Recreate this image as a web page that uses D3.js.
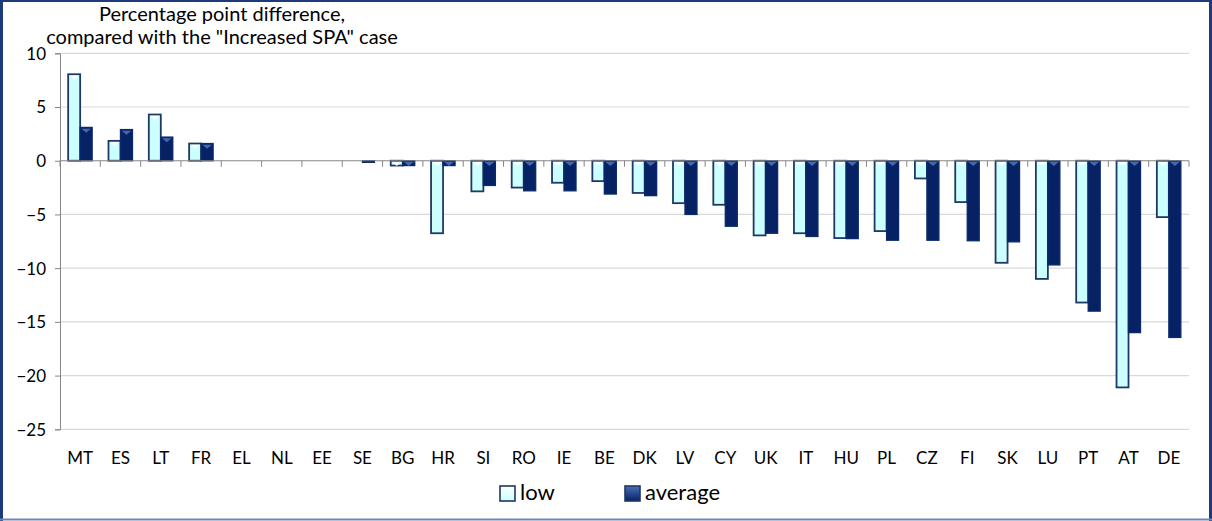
<!DOCTYPE html>
<html>
<head>
<meta charset="utf-8">
<script src="https://cdn.jsdelivr.net/npm/d3@7"></script>
<style>
  body { margin: 0; background: #fff; }
  text { font-family: Lato, "Open Sans", sans-serif; fill: #000; }
</style>
</head>
<body>
<div id="chart"></div>
<script>
// categories and series
var countries = ["MT","ES","LT","FR","EL","NL","EE","SE","BG","HR","SI","RO","IE","BE","DK","LV","CY","UK","IT","HU","PL","CZ","FI","SK","LU","PT","AT","DE"];
var lowVals = [8.05, 1.85, 4.3, 1.6, 0, 0, 0, 0, -0.45, -6.75, -2.85, -2.5, -2.05, -1.9, -3.0, -3.95, -4.1, -6.95, -6.75, -7.2, -6.55, -1.65, -3.85, -9.5, -11.0, -13.2, -21.1, -5.25];
var avgVals = [3.1, 2.9, 2.2, 1.6, 0, 0, 0, -0.15, -0.45, -0.45, -2.3, -2.8, -2.8, -3.1, -3.25, -5.0, -6.1, -6.75, -7.05, -7.25, -7.4, -7.4, -7.45, -7.55, -9.7, -14.0, -16.0, -16.45];
var yTicks = [10, 5, 0, -5, -10, -15, -20, -25];
var seriesNames = ["low", "average"];

var W = 1212, H = 521;
var plotL = 60, plotR = 1189, plotT = 53.3, plotB = 429.3;

var svg = d3.select("#chart").append("svg")
    .attr("width", W)
    .attr("height", H);

var defs = svg.append("defs");
var gLow = defs.append("linearGradient").attr("id", "gLow").attr("x1", 0).attr("y1", 0).attr("x2", 0).attr("y2", 1);
gLow.append("stop").attr("offset", "0%").attr("stop-color", "#ffffff");
gLow.append("stop").attr("offset", "100%").attr("stop-color", "#ccffff");
var gAvg = defs.append("linearGradient").attr("id", "gAvg").attr("x1", 0).attr("y1", 0).attr("x2", 0).attr("y2", 1);
gAvg.append("stop").attr("offset", "0%").attr("stop-color", "#4a6fb8");
gAvg.append("stop").attr("offset", "100%").attr("stop-color", "#062265");

var y = d3.scaleLinear().domain([-25, 10]).range([plotB, plotT]);
var x = d3.scaleBand().domain(countries).range([plotL, plotR])
    .paddingInner(0.405).paddingOuter(0.2025);
var xs = d3.scaleBand().domain(seriesNames).range([0, x.bandwidth()]);
var step = x.step();

// gridlines
svg.append("g").selectAll("line")
    .data(yTicks.filter(function(d) { return d !== 0; }))
  .enter().append("line")
    .attr("x1", plotL).attr("x2", plotR)
    .attr("y1", function(d) { return y(d); })
    .attr("y2", function(d) { return y(d); })
    .attr("stroke", "#d9d9d9").attr("stroke-width", 1.2);

// y axis
var yAxis = svg.append("g")
    .attr("transform", "translate(" + plotL + ",0)")
    .call(d3.axisLeft(y).tickValues(yTicks).tickSize(5).tickPadding(9).tickFormat(d3.format("d")));
yAxis.select(".domain").attr("stroke", "#868686");
yAxis.selectAll(".tick line").attr("stroke", "#868686");
yAxis.selectAll(".tick text").style("font-size", "17px").attr("fill", "#000").attr("dy", "0.35em");

// bars
var rows = countries.map(function(c, i) { return { c: c, low: lowVals[i], average: avgVals[i] }; });
var groups = svg.append("g").selectAll("g")
    .data(rows)
  .enter().append("g")
    .attr("transform", function(d) { return "translate(" + x(d.c) + ",0)"; });

groups.selectAll("rect")
    .data(function(d) { return seriesNames.map(function(k) { return { k: k, v: d[k] }; }).filter(function(e) { return e.v !== 0; }); })
  .enter().append("rect")
    .attr("x", function(d) { return xs(d.k); })
    .attr("width", xs.bandwidth())
    .attr("y", function(d) { return y(Math.max(0, d.v)); })
    .attr("height", function(d) { return Math.abs(y(d.v) - y(0)); })
    .attr("fill", function(d) { return d.k === "low" ? "#ccffff" : "#062265"; })
    .attr("stroke", function(d) { return d.k === "low" ? "#203864" : "#0a2a6a"; })
    .attr("stroke-width", function(d) { return d.k === "low" ? 1.8 : 1.3; });

// small bevel highlight on bar top
groups.selectAll("path.bevel")
    .data(function(d) { return seriesNames.map(function(k) { return { k: k, v: d[k] }; }).filter(function(e) { return e.v !== 0 && Math.abs(y(e.v) - y(0)) > 4; }); })
  .enter().append("path")
    .attr("class", "bevel")
    .attr("d", function(d) {
      var x0 = xs(d.k) + 1.2, x1 = xs(d.k) + xs.bandwidth() - 1.2, yt = y(Math.max(0, d.v)) + 1.2;
      return "M" + x0 + "," + yt + "L" + x1 + "," + yt + "L" + ((x0 + x1) / 2) + "," + (yt + 4) + "Z";
    })
    .attr("fill", function(d) { return d.k === "low" ? "#ffffff" : "#4a6fb8"; })
    .attr("opacity", 0.9);

// category axis at zero
svg.append("line")
    .attr("x1", plotL).attr("x2", plotR)
    .attr("y1", y(0)).attr("y2", y(0))
    .attr("stroke", "#868686").attr("stroke-width", 1.2);
svg.append("g").selectAll("line")
    .data(d3.range(countries.length + 1))
  .enter().append("line")
    .attr("x1", function(i) { return plotL + i * step; })
    .attr("x2", function(i) { return plotL + i * step; })
    .attr("y1", y(0)).attr("y2", y(0) + 6)
    .attr("stroke", "#868686");

// category labels
svg.append("g").selectAll("text")
    .data(countries)
  .enter().append("text")
    .attr("x", function(d) { return x(d) + x.bandwidth() / 2; })
    .attr("y", 464)
    .attr("text-anchor", "middle")
    .style("font-size", "17px")
    .text(function(d) { return d; });

// title
svg.append("text").attr("x", 222).attr("y", 21).attr("text-anchor", "middle")
    .style("font-size", "20px").text("Percentage point difference,");
svg.append("text").attr("x", 222).attr("y", 44).attr("text-anchor", "middle")
    .style("font-size", "20px").text("compared with the \"Increased SPA\" case");

// legend
var legend = svg.append("g");
var legX = [500, 625];
seriesNames.forEach(function(k, i) {
  legend.append("rect")
      .attr("x", legX[i]).attr("y", 486)
      .attr("width", 15).attr("height", 15)
      .attr("fill", i === 0 ? "url(#gLow)" : "url(#gAvg)")
      .attr("stroke", "#203864").attr("stroke-width", 1.6);
  legend.append("text")
      .attr("x", legX[i] + 20).attr("y", 500)
      .style("font-size", "22px")
      .text(k);
});

// outer frame
svg.append("line").attr("x1", 0).attr("x2", W).attr("y1", 1).attr("y2", 1).attr("stroke", "#1f3a7a").attr("stroke-width", 2);
svg.append("line").attr("x1", 1.5).attr("x2", 1.5).attr("y1", 0).attr("y2", H).attr("stroke", "#1f3a7a").attr("stroke-width", 3);
svg.append("line").attr("x1", W - 1.5).attr("x2", W - 1.5).attr("y1", 0).attr("y2", H).attr("stroke", "#1f3a7a").attr("stroke-width", 3);
svg.append("line").attr("x1", 0).attr("x2", W).attr("y1", H - 1.5).attr("y2", H - 1.5).attr("stroke", "#6f86b8").attr("stroke-width", 2);
</script>
</body>
</html>
